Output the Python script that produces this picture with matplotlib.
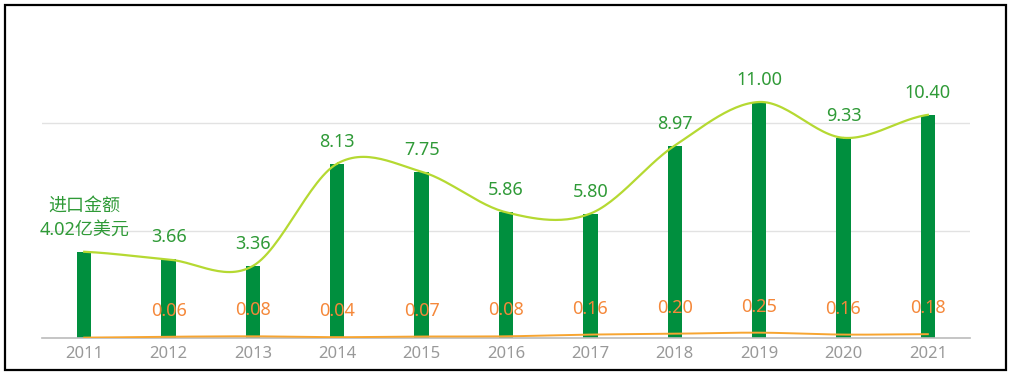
import numpy as np
import matplotlib.pyplot as plt
from matplotlib.patches import Rectangle

plt.rcParams['font.family'] = ['Noto Sans', 'Noto Sans CJK SC', 'DejaVu Sans']

years = ['2011', '2012', '2013', '2014', '2015', '2016', '2017', '2018', '2019', '2020', '2021']
import_amount = [4.02, 3.66, 3.36, 8.13, 7.75, 5.86, 5.80, 8.97, 11.00, 9.33, 10.40]
small_amount = [0.02, 0.06, 0.08, 0.04, 0.07, 0.08, 0.16, 0.20, 0.25, 0.16, 0.18]
small_labels = [None, '0.06', '0.08', '0.04', '0.07', '0.08', '0.16', '0.20', '0.25', '0.16', '0.18']

BAR = '#008f3e'
LINE = '#b5d932'
GREEN_TXT = '#2f9a37'
ORANGE_TXT = '#f5883a'
ORANGE_LINE = '#f7a531'


def smooth(x, y, n=30):
    """catmull-rom 平滑曲线"""
    x = np.asarray(x, float)
    y = np.asarray(y, float)
    px = np.concatenate([[2 * x[0] - x[1]], x, [2 * x[-1] - x[-2]]])
    py = np.concatenate([[y[0]], y, [y[-1]]])
    xs, ys = [], []
    t = np.linspace(0, 1, n)
    for i in range(1, len(px) - 2):
        p0, p1, p2, p3 = py[i - 1], py[i], py[i + 1], py[i + 2]
        yy = 0.5 * ((2 * p1) + (-p0 + p2) * t + (2 * p0 - 5 * p1 + 4 * p2 - p3) * t ** 2
                    + (-p0 + 3 * p1 - 3 * p2 + p3) * t ** 3)
        xx = px[i] + (px[i + 1] - px[i]) * t
        xs.append(xx)
        ys.append(yy)
    return np.concatenate(xs), np.concatenate(ys)


fig = plt.figure(figsize=(10.15, 3.76), dpi=100)
ax = fig.add_axes([0.0414, 0.101, 0.9143, 0.856])

x = np.arange(len(years))
ax.bar(x, import_amount, width=0.17, color=BAR, zorder=2)

sx, sy = smooth(x, import_amount)
ax.plot(sx, sy, color=LINE, lw=1.6, zorder=3)

ox, oy = smooth(x, small_amount)
ax.plot(ox, oy, color=ORANGE_LINE, lw=1.4, zorder=4)

for i, v in enumerate(import_amount):
    if i == 0:
        txt = '进口金额\n%.2f亿美元' % v
    else:
        txt = '%.2f' % v
    ax.annotate(txt, (i, v), xytext=(0, 13), textcoords='offset pixels',
                ha='center', va='bottom', color=GREEN_TXT, fontsize=13,
                linespacing=1.45, zorder=5)

for i, lab in enumerate(small_labels):
    if lab is None:
        continue
    ax.annotate(lab, (i, small_amount[i]), xytext=(0, 17), textcoords='offset pixels',
                ha='center', va='bottom', color=ORANGE_TXT, fontsize=13, zorder=5)

ax.set_xlim(-0.5, len(years) - 0.5)
ax.set_ylim(0, 15)
ax.set_yticks([5, 10])
ax.yaxis.grid(True, color='#e2e2e2', lw=1, zorder=0)
ax.set_xticks(x)
ax.set_xticklabels(years, color='#999999', fontsize=12)
ax.tick_params(axis='x', length=0, pad=6)
ax.tick_params(axis='y', length=0, labelleft=False)
for s in ['top', 'right', 'left']:
    ax.spines[s].set_visible(False)
ax.spines['bottom'].set_color('#bbbbbb')
ax.spines['bottom'].set_linewidth(1.2)

# 外框
fig.patches.append(Rectangle((0.005, 0.016), 0.986, 0.97, transform=fig.transFigure,
                             fill=False, edgecolor='black', lw=1.6))

fig.savefig('out.png', dpi=100)
